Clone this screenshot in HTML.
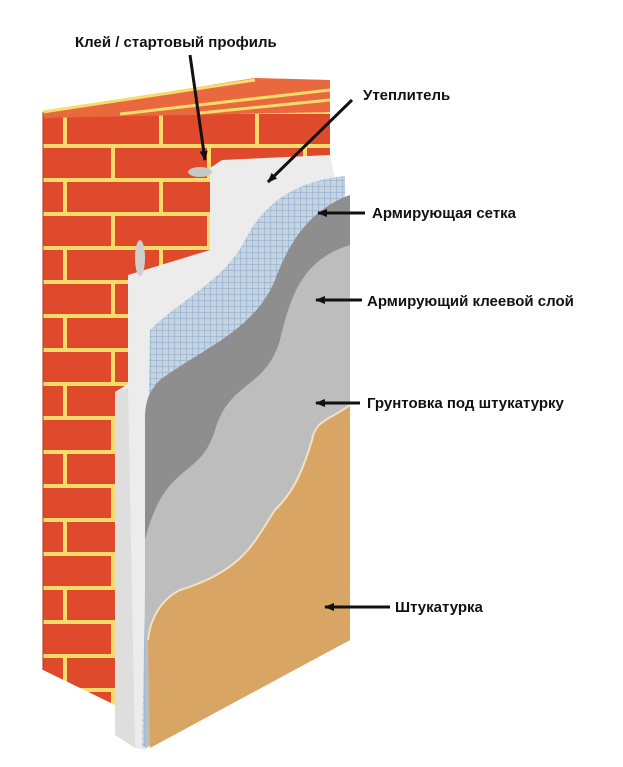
<!DOCTYPE html>
<html><head><meta charset="utf-8"><style>
html,body{margin:0;padding:0;background:#fff;width:623px;height:767px;overflow:hidden}
svg{display:block}
text{font-family:"Liberation Sans",sans-serif;font-weight:bold;font-size:15px;fill:#111}
</style></head><body>
<svg width="623" height="767" viewBox="0 0 623 767">
<defs>
<pattern id="brick" width="96" height="68" patternUnits="userSpaceOnUse" x="43" y="110">
<rect width="96" height="68" fill="#df4a2c"/>
<rect x="0" y="0" width="96" height="4" fill="#f6dc6a"/>
<rect x="0" y="34" width="96" height="4" fill="#f6dc6a"/>
<rect x="20" y="0" width="4" height="34" fill="#f6dc6a"/>
<rect x="68" y="34" width="4" height="34" fill="#f6dc6a"/>
</pattern>
<pattern id="mesh" width="6" height="6" patternUnits="userSpaceOnUse">
<rect width="6" height="6" fill="#c9d3dc"/>
<path d="M0 0H6M0 0V6" stroke="#7fa6d0" stroke-width="1"/>
</pattern>
<marker id="ah" markerWidth="10" markerHeight="8" refX="9" refY="4" orient="auto" markerUnits="userSpaceOnUse">
<path d="M0,0 L10,4 L0,8 Z" fill="#111"/>
</marker>
</defs>
<!-- brick -->
<polygon points="43,112 255,78 330,80 330,420 115,705 43,670" fill="url(#brick)"/>
<polygon points="43,112 255,78 330,80 330,112 43,118" fill="#e9683e"/>
<g stroke="#f6dc6a" stroke-width="3">
<line x1="43" y1="112" x2="255" y2="80"/>
<line x1="120" y1="114" x2="330" y2="90"/>
<line x1="200" y1="113" x2="330" y2="100"/>
</g>
<line x1="43" y1="112" x2="43" y2="670" stroke="#b8321c" stroke-width="1"/>
<!-- insulation -->
<polygon points="115,392 128,384 128,275 210,250 210,168 222,160 330,155 335,180 350,640 145,750 135,748 115,735" fill="#ececec"/>
<polygon points="115,392 128,388 135,748 115,735" fill="#dedede"/>
<ellipse cx="200" cy="172" rx="12" ry="5" fill="#c8c8c8"/>
<ellipse cx="140" cy="258" rx="5" ry="18" fill="#cfcfcf"/>
<!-- layers -->
<path d="M345,176 C300,180 265,200 245,240 C225,280 180,300 150,330 L142,748 L350,640 Z" fill="url(#mesh)"/>
<path d="M350,195 C310,210 290,240 275,280 C255,330 200,350 160,380 C150,390 145,400 145,420 L145,748 L350,640 Z" fill="#8e8e8e"/>
<path d="M350,245 C300,260 290,300 280,340 C265,390 230,380 215,430 C200,480 165,460 145,540 L145,748 L350,640 Z" fill="#bdbdbd"/>
<path d="M350,405 C330,420 315,420 312,440 C300,480 290,495 275,510 C255,540 245,570 180,590 C160,600 150,620 148,640 L150,748 L350,640 Z" fill="#d9a565"/>
<path d="M350,405 C330,420 315,420 312,440 C300,480 290,495 275,510 C255,540 245,570 180,590 C160,600 150,620 148,640" fill="none" stroke="#f2e2c4" stroke-width="2"/>
<!-- arrows -->
<g stroke="#111" stroke-width="3" fill="none" marker-end="url(#ah)">
<line x1="190" y1="55" x2="205" y2="160"/>
<line x1="352" y1="100" x2="268" y2="182"/>
<line x1="365" y1="213" x2="318" y2="213"/>
<line x1="362" y1="300" x2="316" y2="300"/>
<line x1="360" y1="403" x2="316" y2="403"/>
<line x1="390" y1="607" x2="325" y2="607"/>
</g>
<text x="75" y="47">Клей / стартовый профиль</text>
<text x="363" y="100">Утеплитель</text>
<text x="372" y="218">Армирующая сетка</text>
<text x="367" y="306">Армирующий клеевой слой</text>
<text x="367" y="408">Грунтовка под штукатурку</text>
<text x="395" y="612">Штукатурка</text>
</svg>
</body></html>
